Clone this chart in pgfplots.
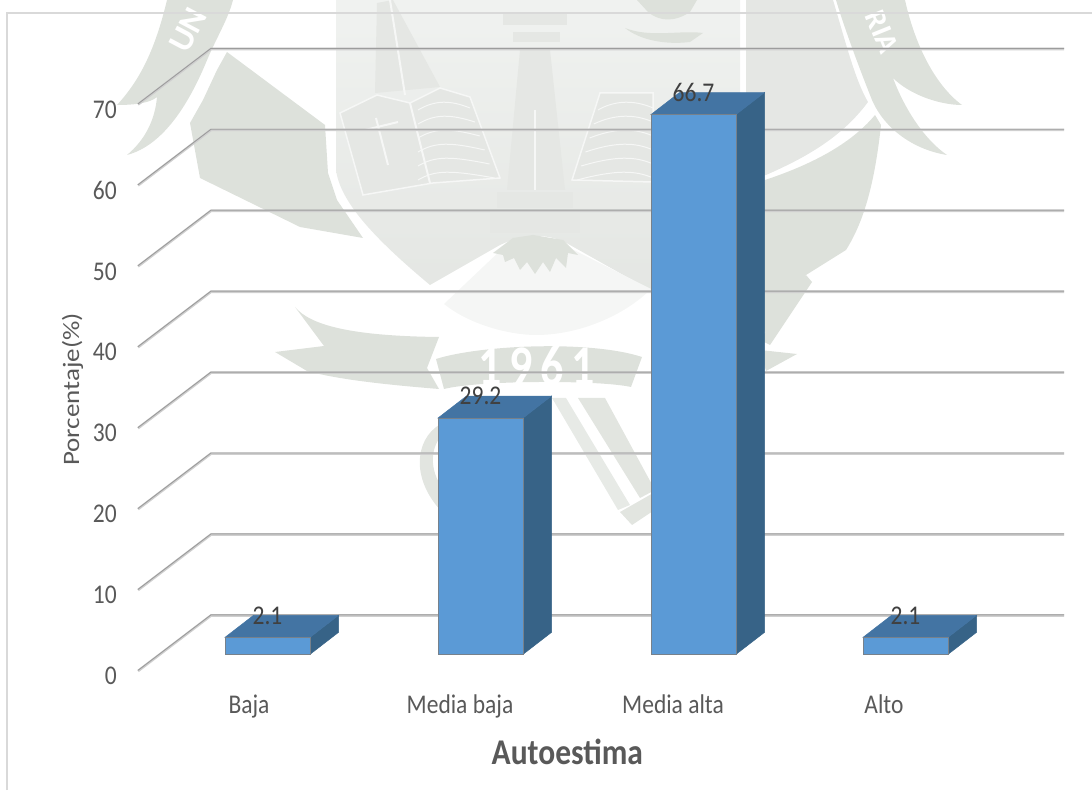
\documentclass[border=0pt]{standalone}
\usepackage{pgfplots}
\usepackage{pgfplotstable}
\usepackage{fontspec}
\setmainfont{Carlito}
\pgfplotsset{compat=1.18}

\definecolor{frontface}{HTML}{5B9AD6}
\definecolor{topface}{HTML}{4374A3}
\definecolor{sideface}{HTML}{376387}
\definecolor{barline}{HTML}{77818B}
\definecolor{tick}{HTML}{595959}
\definecolor{lab}{HTML}{404040}
\definecolor{gridlight}{HTML}{CFCFCF}
\definecolor{griddark}{HTML}{9C9C9C}
\definecolor{crest}{HTML}{DDE1DB}
\definecolor{crestmid}{HTML}{E5E7E4}
\definecolor{crestpale}{HTML}{F0F2F0}
\definecolor{crestline}{HTML}{F6F7F6}

% value, with the position of the label above the depth of the column
\pgfplotstableread{
xc    v
267.5 2.1
480.5 29.2
693.5 66.7
905.5 2.1
}\barvalues

% depth of a column, in axis units; its foot lies above the front of the floor
\def\depthy{2.72}
\def\foot{2.06}
\newcommand{\cuboid}[3]{%
  \pgfmathsetmacro\ylow{\foot}
  \pgfmathsetmacro\ytop{\foot+#3}
  \pgfmathsetmacro\ylowb{\foot+\depthy}
  \pgfmathsetmacro\ytopb{\foot+#3+\depthy}
  \pgfmathsetmacro\xr{#2+28.5}
  \pgfmathsetmacro\xl{#1+28.5}
  \addplot[fill=sideface,draw=sideface,line width=0.5pt] coordinates {(#2,\ylow)(\xr,\ylowb)(\xr,\ytopb)(#2,\ytop)} --cycle;
  \addplot[fill=topface,draw=topface,line width=0.5pt] coordinates {(#1,\ytop)(#2,\ytop)(\xr,\ytopb)(\xl,\ytopb)} --cycle;
  \addplot[fill=frontface,draw=barline,line width=0.7pt] coordinates {(#1,\ylow)(#2,\ylow)(#2,\ytop)(#1,\ytop)} --cycle;
}

\begin{document}
\begin{tikzpicture}[x=1pt,y=1pt]
\useasboundingbox (0,0) rectangle (1092,790);

% university crest behind the chart
\begin{scope}[shift={(0,790)},y=-1pt]
  \clip (0,0) rectangle (1092,790);
  % shield
  \shade[top color=crestpale,bottom color=crestmid!90!crest]
    (336,0) -- (336,170) .. controls (340,200) and (370,235) .. (430,285)
    -- (500,245) .. controls (525,233) and (550,233) .. (570,245) -- (650,290)
    .. controls (700,240) and (738,200) .. (740,170) -- (740,0) -- cycle;
  % lower part of the shield
  \fill[crestpale!70!white] (444,304) .. controls (470,325) and (510,335) .. (536,335)
    .. controls (580,335) and (625,315) .. (651,289) -- (570,248) .. controls (550,238) and (525,238) .. (503,248) -- cycle;
  % right field
  \fill[crestmid] (746,0) -- (833,0) .. controls (845,40) and (855,80) .. (868,102)
    .. controls (840,140) and (800,160) .. (766,175) -- (746,178) -- cycle;
  % side fields
  \fill[crest] (227,52) -- (325,125) -- (328,173) -- (337,200) -- (363,238) -- (300,227)
    -- (200,178) -- (190,123) -- (203,100) -- (217,70) -- cycle;
  \fill[crest] (765,180) .. controls (810,165) and (850,145) .. (875,115) -- (881,125)
    .. controls (875,180) and (865,220) .. (846,250) -- (806,275) -- (769,340) -- (750,300) -- cycle;
  % feathers
  \fill[crest] (167,0) .. controls (155,50) and (140,80) .. (117,105)
    .. controls (135,105) and (150,103) .. (157,97)
    .. controls (155,120) and (145,140) .. (127,155)
    .. controls (165,145) and (190,100) .. (205,65) .. controls (215,40) and (228,20) .. (233,0) -- cycle;
  \fill[crest] (836,0) -- (905,0) .. controls (915,45) and (935,85) .. (962,105)
    .. controls (940,105) and (910,95) .. (893,78)
    .. controls (905,110) and (925,140) .. (947,155)
    .. controls (915,150) and (885,130) .. (872,100) .. controls (860,70) and (845,30) .. (836,0) -- cycle;
  \node[white,font=\bfseries\fontsize{34}{34}\selectfont,rotate=62] at (188,30) {UN};
  \node[white,font=\bfseries\fontsize{30}{30}\selectfont,rotate=-68] at (882,32) {RIA};
  % ribbon
  \fill[crest] (295,307) .. controls (310,325) and (350,336) .. (439,337) -- (427,368) -- (439,389)
    .. controls (390,385) and (340,380) .. (307,371) -- (275,352) -- (324,346) -- cycle;
  \fill[crest] (436,359) .. controls (480,345) and (590,340) .. (642,357) -- (631,387)
    .. controls (600,380) and (480,380) .. (444,389) -- cycle;
  \fill[crest] (760,350) -- (797,354) -- (766,371) -- cycle;
  \fill[crest] (806,275) -- (812,282) -- (770,345) -- (760,340) -- cycle;
  \node[white,yscale=1.25,font=\bfseries\fontsize{46}{46}\selectfont] at (537,366) {1\,9\,6\,1};
  % swords and wreath below the ribbon
  \fill[crest!70!white] (552,398) -- (566,398) -- (630,505) -- (618,510) -- cycle;
  \fill[crest!85!white] (578,398) -- (605,398) -- (655,490) -- (640,498) -- cycle;
  \fill[crest!85!white] (620,512) -- (655,492) -- (662,505) -- (632,525) -- cycle;
  \fill[crest!85!white] (439,425) .. controls (415,440) and (410,480) .. (444,514) -- (444,490) .. controls (428,470) and (430,445) .. (445,432) -- cycle;
  % spire, torch and plinth
  \fill[crestmid] (377,3) -- (393,0) -- (440,87) -- (375,93) -- cycle;
  \draw[crestline,line width=2pt] (390,0) -- (405,95);
  \fill[crestmid] (520,50) -- (550,50) -- (565,190) -- (507,190) -- cycle;
  \draw[crestline,line width=1.5pt] (535,110) -- (535,190);
  \fill[crestmid] (497,192) rectangle (573,208);
  \fill[crestmid] (490,213) rectangle (580,233);
  \fill[crestmid] (503,13) rectangle (567,25);
  \fill[crestmid] (513,32) rectangle (560,42);
  % sun
  \fill[crest] (493,253) -- (513,238) -- (533,235) -- (563,240) -- (578,255) -- (568,253) -- (566,268)
    -- (556,258) -- (550,272) -- (543,262) -- (535,274) -- (527,262) -- (520,270) -- (514,258) -- (505,262) -- (503,255) -- cycle;
  % open books
  \fill[crestmid,draw=crestline,line width=1.5pt] (340,113) -- (377,95) -- (410,103) -- (440,88) -- (470,97)
    -- (500,178) -- (433,183) -- (363,195) -- cycle;
  \fill[crestmid,draw=crestline,line width=1.5pt] (600,93) -- (653,93) -- (653,182) -- (572,180) -- cycle;
  \draw[crestline,line width=2pt] (410,103) -- (430,183);
  \foreach \y in {0,14,28,42,56,70}{
    \draw[crestline,line width=1pt] (418,110+\y) .. controls (435,100+\y) and (450,100+\y) .. (470+\y*0.35,108+\y);
    \draw[crestline,line width=1pt] (598-\y*0.3,110+\y) .. controls (615,100+\y) and (635,100+\y) .. (653,108+\y);
  }
  \draw[crestline,line width=2pt] (376,118) -- (388,165) (365,130) -- (398,122);
  % bird of the crest
  \fill[crest] (637,0) -- (697,0) -- (690,12) .. controls (675,22) and (660,22) .. (648,12) -- cycle;
  \fill[crest] (625,28) .. controls (650,38) and (680,30) .. (703,33) -- (690,42) .. controls (665,45) and (640,40) .. (625,28) -- cycle;
\end{scope}

% frame of the chart area
\draw[color=black!15,line width=1.4pt] (7,0) -- (7,777) -- (1092,777);

\begin{axis}[
  at={(0,0)},anchor=south west,
  scale only axis,width=1092pt,height=790pt,
  xmin=0,xmax=1092,
  ymin=-14.70,ymax=82.91,
  axis line style={draw=none},
  tick style={draw=none},
  xtick={249,460,673,884},
  xticklabels={Baja,Media baja,Media alta,Alto},
  ytick={0,10,20,30,40,50,60,70},
  /pgf/number format/assume math mode=true,
  tick label style={text=tick,font=\fontsize{23.5}{24}\selectfont},
  xticklabel style={anchor=base,yshift=76.5pt,yscale=1.15},
  yticklabel style={anchor=east,inner sep=0pt,xshift=117pt,yshift=-5pt,yscale=1.15},
  xlabel={Autoestima},
  ylabel={Porcentaje(\%)},
  xlabel style={at={(axis description cs:0.5195,0.048)},anchor=center,text=tick,yscale=1.15,font=\bfseries\fontsize{31.5}{32}\selectfont},
  ylabel style={at={(axis description cs:0.0665,0.507)},anchor=center,text=tick,xscale=1.15,font=\fontsize{23.5}{24}\selectfont},
  unbounded coords=jump,
  clip=false,
]
% floor-to-wall gridlines
\addplot[gridlight,line width=2.6pt,no markers] coordinates {
  (138,0)(211,6.86)(1064,6.86) (nan,nan)
  (138,10)(211,16.86)(1064,16.86) (nan,nan)
  (138,20)(211,26.86)(1064,26.86) (nan,nan)
  (138,30)(211,36.86)(1064,36.86) (nan,nan)
  (138,40)(211,46.86)(1064,46.86) (nan,nan)
  (138,50)(211,56.86)(1064,56.86) (nan,nan)
  (138,60)(211,66.86)(1064,66.86) (nan,nan)
  (138,70)(211,76.86)(1064,76.86)
};
\addplot[griddark,line width=0.9pt,no markers] coordinates {
  (138,0.08)(211,6.94)(1064,6.94) (nan,nan)
  (138,10.08)(211,16.94)(1064,16.94) (nan,nan)
  (138,20.08)(211,26.94)(1064,26.94) (nan,nan)
  (138,30.08)(211,36.94)(1064,36.94) (nan,nan)
  (138,40.08)(211,46.94)(1064,46.94) (nan,nan)
  (138,50.08)(211,56.94)(1064,56.94) (nan,nan)
  (138,60.08)(211,66.94)(1064,66.94) (nan,nan)
  (138,70.08)(211,76.94)(1064,76.94)
};
% columns
\cuboid{225}{310}{2.1}
\cuboid{438}{523}{29.2}
\cuboid{651}{736}{66.7}
\cuboid{863}{948}{2.1}
% value labels on the rear edge of each column top
\addplot[draw=none,mark=none,
  point meta=\thisrow{v},
  nodes near coords={\pgfmathprintnumber[fixed,fixed zerofill,precision=1]{\pgfplotspointmeta}},
  nodes near coords style={anchor=center,text=lab,inner sep=0pt,yscale=1.15,
    /pgf/number format/assume math mode=true,font=\fontsize{23.5}{24}\selectfont},
] table[x=xc,y expr=\thisrow{v}+4.78] {\barvalues};
\end{axis}
\end{tikzpicture}
\end{document}
